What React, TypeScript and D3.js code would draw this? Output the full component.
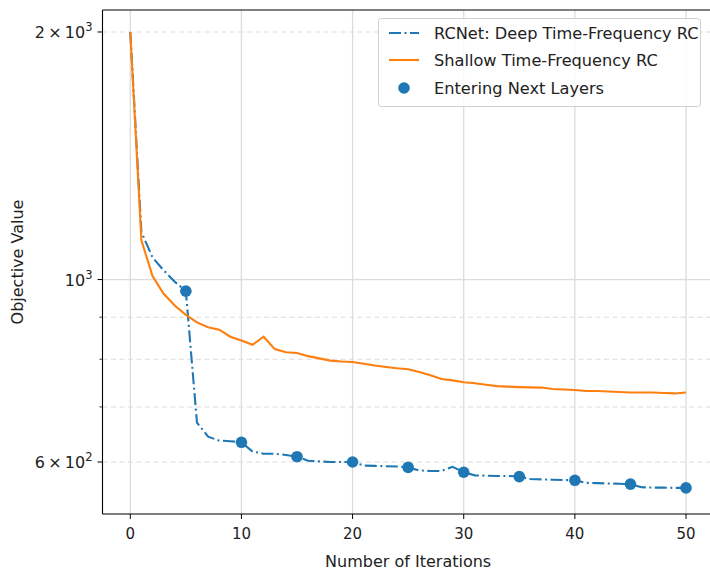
import React from "react";
import * as d3 from "d3";

const iterations = d3.range(0, 51);
const deepValues = [
  2000, 1142, 1064, 1026, 994, 968, 670, 644, 637, 636,
  634, 618, 614, 614, 612, 609, 602, 601, 600, 600,
  600, 594, 593.5, 593, 592.5, 591, 586, 585, 585, 592,
  583, 578, 577.5, 577, 577, 576, 572, 571.5, 571, 570.5,
  570, 566, 565.5, 565, 564.5, 564, 559, 558.5, 558.5, 558, 558,
];
const shallowValues = [
  2000, 1116, 1010, 961, 930, 906, 887, 875, 869, 852,
  843, 833, 852, 823, 816, 814, 807, 802, 797, 795,
  794, 790, 786, 783, 780, 778, 772, 765, 757, 754,
  750, 748, 745, 742, 741, 740, 739.5, 739, 736, 735,
  734, 732, 732, 731, 730, 729, 729, 729, 728, 727, 729,
];
const layerIters = [5, 10, 15, 20, 25, 30, 35, 40, 45, 50];
const xTicks = [0, 10, 20, 30, 40, 50];
const yMajorTicks = [1000];
const yMinorTicks = [600, 700, 800, 900, 2000];
const yLabeled = [
  { v: 2000, mant: "2", exp: "3" },
  { v: 1000, mant: "", exp: "3" },
  { v: 600, mant: "6", exp: "2" },
];
const seriesNames = [
  "RCNet: Deep Time-Frequency RC",
  "Shallow Time-Frequency RC",
  "Entering Next Layers",
];

const BLUE = "#1f77b4";
const ORANGE = "#ff7f0e";
const FONT = "DejaVu Sans, sans-serif";

export default function App() {
  const W = 710, H = 571;
  const left = 102.5, top = 10, bottom = 514;
  const x = d3.scaleLinear().domain([-2.5, 52.5]).range([left, 713.8]);
  const y = d3.scaleLog().domain([518.7, 2127]).range([bottom, top]);

  const line = d3
    .line<number>()
    .x((_, i) => x(iterations[i]))
    .y((d) => y(d));

  const gridColor = "#dcdcdc";
  return (
    <svg
      width={W}
      height={H}
      style={{ position: "absolute", left: 0, top: 0, background: "#fff" }}
      fontFamily={FONT}
    >
      <rect x={0} y={0} width={W} height={H} fill="#fff" />
      {/* grid */}
      {xTicks.map((t) => (
        <line key={"gx" + t} x1={x(t)} x2={x(t)} y1={top} y2={bottom} stroke={gridColor} strokeWidth={1.3} />
      ))}
      {yMajorTicks.map((t) => (
        <line key={"gy" + t} x1={left} x2={W} y1={y(t)} y2={y(t)} stroke={gridColor} strokeWidth={1.3} />
      ))}
      {yMinorTicks.map((t) => (
        <line key={"gm" + t} x1={left} x2={W} y1={y(t)} y2={y(t)} stroke={gridColor} strokeWidth={1.1} strokeDasharray="5,3.5" />
      ))}
      {/* series */}
      <path d={line(deepValues) || ""} fill="none" stroke={BLUE} strokeWidth={2.1} strokeDasharray="12,3.5,2,3.5" />
      <path d={line(shallowValues) || ""} fill="none" stroke={ORANGE} strokeWidth={2.1} />
      {layerIters.map((it) => (
        <circle key={"d" + it} cx={x(it)} cy={y(deepValues[it])} r={5.8} fill={BLUE} />
      ))}
      {/* spines */}
      <line x1={left} x2={left} y1={top} y2={bottom} stroke="#000" strokeWidth={1.1} />
      <line x1={left} x2={W} y1={bottom} y2={bottom} stroke="#000" strokeWidth={1.1} />
      <line x1={left} x2={W} y1={top} y2={top} stroke="#000" strokeWidth={1.1} />
      {/* x ticks */}
      {xTicks.map((t) => (
        <g key={"xt" + t}>
          <line x1={x(t)} x2={x(t)} y1={bottom} y2={bottom + 5} stroke="#000" strokeWidth={1} />
          <text x={x(t)} y={bottom + 25} textAnchor="middle" fontSize={15} fill="#222">
            {t}
          </text>
        </g>
      ))}
      {/* y ticks */}
      {[...yMajorTicks, 600, 2000].map((t) => (
        <line key={"yt" + t} x1={left - 5} x2={left} y1={y(t)} y2={y(t)} stroke="#000" strokeWidth={1} />
      ))}
      {[700, 800, 900].map((t) => (
        <line key={"ym" + t} x1={left - 3} x2={left} y1={y(t)} y2={y(t)} stroke="#000" strokeWidth={0.8} />
      ))}
      {yLabeled.map((l) => (
        <text key={"yl" + l.v} x={left - 10} y={y(l.v) + 6.5} textAnchor="end" fontSize={16} fill="#222">
          {l.mant ? l.mant + "\u2009\u00d7\u200910" : "10"}
          <tspan dy={-7.5} fontSize={11.5}>{l.exp}</tspan>
        </text>
      ))}
      {/* axis labels */}
      <text x={x(25)} y={567} textAnchor="middle" fontSize={16} fill="#222">
        Number of Iterations
      </text>
      <text transform={`translate(23, ${(top + bottom) / 2}) rotate(-90)`} textAnchor="middle" fontSize={16} fill="#222">
        Objective Value
      </text>
      {/* legend */}
      <g>
        <rect x={378.5} y={18.5} width={322} height={88} rx={3} fill="#fff" fillOpacity={0.85} stroke="#d0d0d0" strokeWidth={1} />
        <line x1={389} x2={419} y1={33} y2={33} stroke={BLUE} strokeWidth={2.1} strokeDasharray="12,3.5,2,3.5" />
        <line x1={389} x2={419} y1={60} y2={60} stroke={ORANGE} strokeWidth={2.1} />
        <circle cx={404} cy={88} r={5.8} fill={BLUE} />
        {seriesNames.map((n, i) => (
          <text key={n} x={434} y={33 + i * 27.5 + 5.5} fontSize={16.2} fill="#222">
            {n}
          </text>
        ))}
      </g>
    </svg>
  );
}
